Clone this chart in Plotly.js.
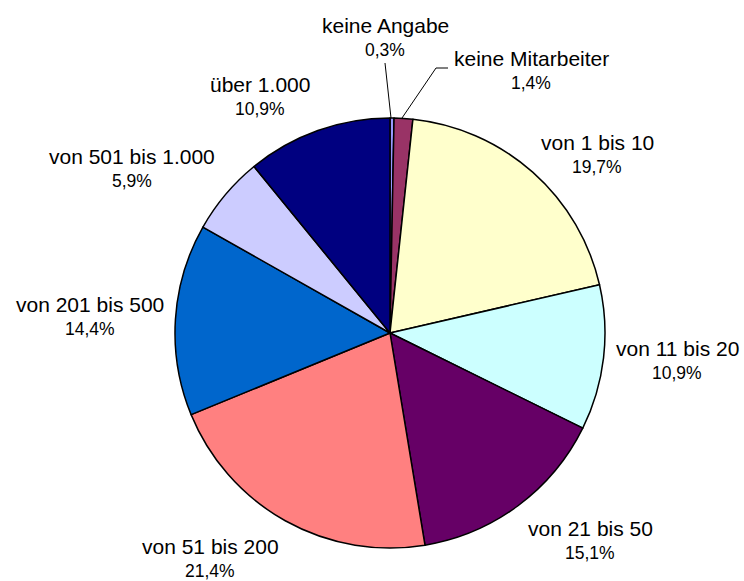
<!DOCTYPE html>
<html><head><meta charset="utf-8">
<script src="https://cdn.plot.ly/plotly-3.0.1.min.js"></script>
<style>html,body{margin:0;padding:0;background:#fff}#c{width:744px;height:581px}</style>
</head><body><div id="c"></div>
<script>
const categories = ["keine Angabe","keine Mitarbeiter","von 1 bis 10","von 11 bis 20","von 21 bis 50","von 51 bis 200","von 201 bis 500","von 501 bis 1.000","über 1.000"];
const values = [0.3, 1.4, 19.7, 10.9, 15.1, 21.4, 14.4, 5.9, 10.9];
const colors = ["#9999FF","#993366","#FFFFCC","#CCFFFF","#660066","#FF8080","#0066CC","#CCCCFF","#000080"];

const W = 744, H = 581;
// label anchor centres (pixels) for name line
const labelPix = [[385,25],[531,58],[597,142],[677,348],[590,528],[210,546],[90,304],[132,156],[260,84]];
const pct = values.map(v => v.toFixed(1).replace('.', ',') + '%');
const ann = [];
categories.forEach((c, i) => {
  const [px, py] = labelPix[i];
  ann.push({x: px / W, y: 1 - py / H, xref: 'paper', yref: 'paper', text: c, showarrow: false,
    xanchor: 'center', yanchor: 'middle', font: {family: 'Liberation Sans, Arial, sans-serif', size: 21, color: '#000'}});
  ann.push({x: px / W, y: 1 - (py + 25) / H, xref: 'paper', yref: 'paper', text: pct[i], showarrow: false,
    xanchor: 'center', yanchor: 'middle', font: {family: 'Liberation Sans, Arial, sans-serif', size: 17.5, color: '#000'}});
});
const shapes = [
  {type:'line', xref:'paper', yref:'paper', x0:385/W, y0:1-63/H, x1:391/W, y1:1-118/H, line:{color:'#000', width:1}},
  {type:'line', xref:'paper', yref:'paper', x0:448/W, y0:1-68/H, x1:436/W, y1:1-68/H, line:{color:'#000', width:1}},
  {type:'line', xref:'paper', yref:'paper', x0:436/W, y0:1-68/H, x1:402/W, y1:1-118/H, line:{color:'#000', width:1}}
];

const cx = 390, cy = 333, r = 215;
const trace = {
  type: 'pie', labels: categories, values: values, sort: false, direction: 'clockwise', rotation: 0,
  marker: {colors: colors, line: {color: '#000', width: 1.5}},
  textinfo: 'none', hoverinfo: 'label+percent', showlegend: false,
  domain: {x: [(cx - r) / W, (cx + r) / W], y: [1 - (cy + r) / H, 1 - (cy - r) / H]}
};
Plotly.newPlot('c', [trace], {
  width: W, height: H, margin: {l: 0, r: 0, t: 0, b: 0},
  paper_bgcolor: '#fff', showlegend: false, annotations: ann, shapes: shapes
}, {displayModeBar: false, staticPlot: true});
</script></body></html>
